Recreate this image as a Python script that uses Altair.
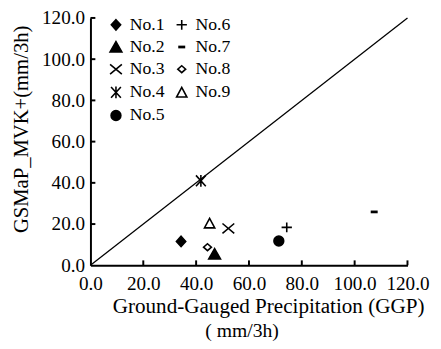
import altair as alt
import pandas as pd

# ---- data ----
names = ["No.1", "No.2", "No.3", "No.4", "No.5", "No.6", "No.7", "No.8", "No.9"]
ggp = [34.3, 47.0, 52.2, 41.8, 71.3, 74.3, 107.4, 44.3, 45.1]
gsmap = [11.6, 5.5, 17.9, 41.0, 11.8, 18.4, 25.9, 8.8, 20.4]
tick_values = [0, 20, 40, 60, 80, 100, 120]
line_ends = [0, 120]

# ---- marker styles ----
shape_map = {
    "No.1": "M0,-1.05L0.95,0L0,1.05L-0.95,0Z",
    "No.2": "M0,-1.1L1.2,1L-1.2,1Z",
    "No.3": "M-1.2,-1L1.2,1M-1.2,1L1.2,-1",
    "No.4": "M-1,-1.1L1,1.1M-1,1.1L1,-1.1M0,-1.2L0,1.2",
    "No.5": "circle",
    "No.6": "M-1.05,0L1.05,0M0,-1L0,1",
    "No.7": "M-0.55,-0.12H0.55V0.12H-0.55Z",
    "No.8": "M0,-0.7L0.8,0L0,0.7L-0.8,0Z",
    "No.9": "M0,-1L1.05,0.95L-1.05,0.95Z",
}
fill_map = {
    "No.1": "black", "No.2": "black", "No.3": "transparent", "No.4": "transparent",
    "No.5": "black", "No.6": "transparent", "No.7": "black", "No.8": "white",
    "No.9": "white",
}

pts = pd.DataFrame({"name": names, "ggp": ggp, "gsmap": gsmap})
diag = pd.DataFrame({"v": line_ends})
ticks_df = pd.DataFrame({"t": tick_values[1:]})

W, H = 323, 252
FONT = "Liberation Serif"

xscale = alt.Scale(domain=[0, 120], nice=False, zero=True)
yscale = alt.Scale(domain=[0, 120], nice=False, zero=True)

x_main = alt.Axis(
    values=tick_values, format=".1f", ticks=False, tickSize=0,
    labelPadding=25, labelBaseline="alphabetic", labelFontSize=19.5,
    labelFont=FONT, labelFlush=False, labelOverlap=False, labelColor="black",
    title="Ground-Gauged Precipitation (GGP)",
    titleFont=FONT, titleFontSize=21.5, titleFontWeight="normal",
    titleX=181, titleY=48, titleBaseline="alphabetic", titleAlign="center",
)
y_main = alt.Axis(
    values=tick_values, format=".1f", ticks=False, tickSize=0,
    labelPadding=6, labelBaseline="middle", labelFontSize=19.5,
    labelFont=FONT, labelFlush=False, labelOverlap=False, labelColor="black",
    title="GSMaP_MVK+(mm/3h)", titleFont=FONT, titleFontSize=21,
    titleFontWeight="normal", titleX=-70, titleY=113,
    titleAngle=270, titleBaseline="middle", titleAlign="center",
)

legend = alt.Legend(
    title=None, orient="none", legendX=17, legendY=-2, columns=2,
    padding=0, labelFont=FONT, labelFontSize=18, labelColor="black",
    labelOffset=5, rowPadding=4.6, columnPadding=8, symbolSize=100,
    symbolStrokeWidth=1.6,
)

points = alt.Chart(pts).mark_point(
    strokeWidth=1.6, size=100, opacity=1
).encode(
    x=alt.X("ggp:Q", scale=xscale, axis=x_main),
    y=alt.Y("gsmap:Q", scale=yscale, axis=y_main),
    shape=alt.Shape(
        "name:N",
        scale=alt.Scale(domain=names, range=[shape_map[n] for n in names]),
        legend=legend,
    ),
    fill=alt.Fill(
        "name:N",
        scale=alt.Scale(domain=names, range=[fill_map[n] for n in names]),
        legend=legend,
    ),
    stroke=alt.Stroke(
        "name:N",
        scale=alt.Scale(domain=names, range=["black"] * len(names)),
        legend=legend,
    ),
)

line = alt.Chart(diag).mark_line(color="black", strokeWidth=1.3).encode(
    x=alt.X("v:Q", scale=xscale),
    y=alt.Y("v:Q", scale=yscale),
)

# inward tick marks along both axes
xt = alt.Chart(ticks_df).mark_tick(
    color="black", thickness=2, size=5, opacity=1
).encode(
    x=alt.X("t:Q", scale=xscale),
    y=alt.datum(0, scale=yscale),
    yOffset=alt.value(-2.5),
)
yt = alt.Chart(ticks_df).mark_tick(
    color="black", thickness=2, size=5, opacity=1, orient="horizontal"
).encode(
    y=alt.Y("t:Q", scale=yscale),
    x=alt.datum(0, scale=xscale),
    xOffset=alt.value(2.5),
)

chart = (
    alt.layer(points, line, xt, yt)
    .properties(
        width=W, height=H,
        autosize=alt.AutoSizeParams(type="none"),
        padding={"left": 84, "top": 7, "right": 26, "bottom": 74},
        background="white",
        title=alt.TitleParams(
            "( mm/3h)", orient="bottom", anchor="middle", dx=-7,
            offset=5, font=FONT, fontSize=20, fontWeight="normal",
            color="black", baseline="top",
        ),
    )
    .configure(font=FONT)
    .configure_view(stroke=None)
    .configure_axis(
        grid=False, domainColor="black", domainWidth=2,
        labelFont=FONT, titleFont=FONT,
    )
)

chart.save("out.html", embed_options={"renderer": "svg", "actions": False})
